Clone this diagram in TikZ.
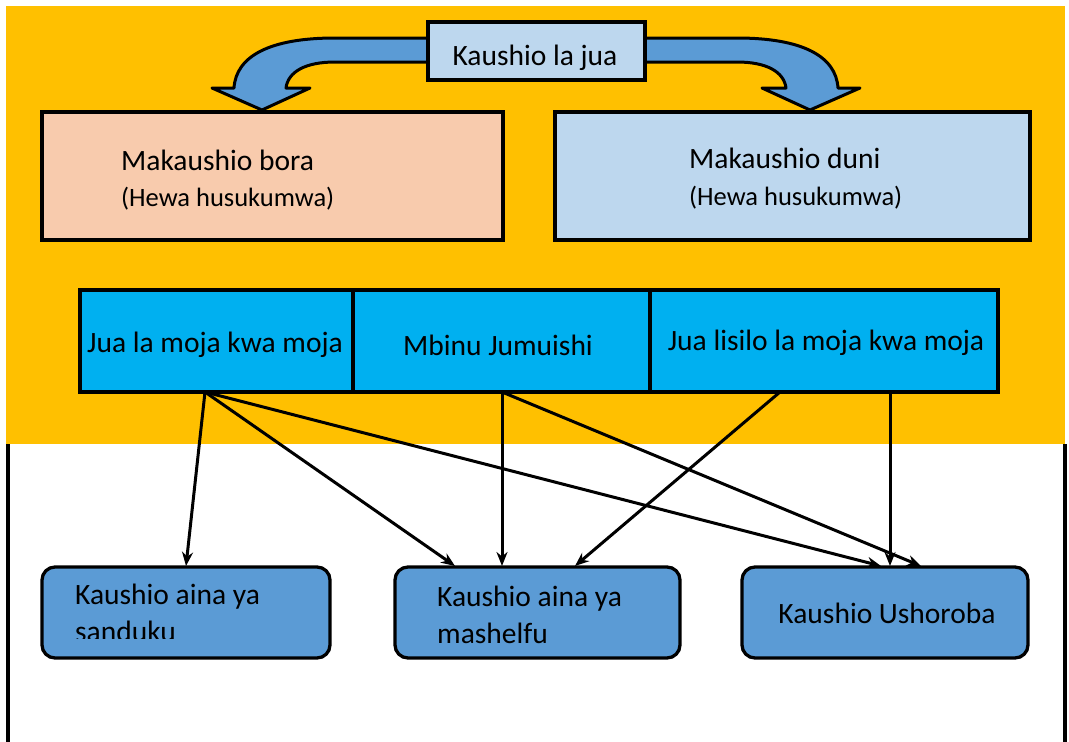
\documentclass[tikz,border=0pt]{standalone}
\usepackage{fontspec}
\setmainfont{Carlito}
\usetikzlibrary{arrows.meta}
\definecolor{orangebg}{HTML}{FFC000}
\definecolor{lightblue}{HTML}{BDD7EE}
\definecolor{peach}{HTML}{F8CBAD}
\definecolor{cyanband}{HTML}{00B0F0}
\definecolor{midblue}{HTML}{5B9BD5}
\begin{document}
\begin{tikzpicture}[x=1pt,y=-1pt,
  box/.style={draw=black,line width=3.3pt,inner sep=0pt},
  txt/.style={font=\fontsize{29.5}{35}\selectfont,inner sep=0pt},
  smalltxt/.style={font=\fontsize{26.5}{31}\selectfont,inner sep=0pt},
  conn/.style={line width=3pt,-{Stealth[length=14pt,width=11pt]}},
  bigarrow/.style={draw=black,line width=3pt,fill=midblue,line join=round},
  bottombox/.style={box,fill=midblue,rounded corners=13pt,minimum height=91pt}]
\useasboundingbox (0,0) rectangle (1069,742);
\fill[white] (0,0) rectangle (1069,742);
\fill[orangebg] (6,6) rectangle (1065,444);
\draw[line width=4pt] (8,444) -- (8,742);
\draw[line width=4pt] (1065,444) -- (1065,742);
% curved arrows
\draw[bigarrow] (440,38) -- (335,38) .. controls (270,38) and (236,56) .. (234,88) -- (212,88) -- (262,110) -- (310,88) -- (286,88) .. controls (288,72) and (305,62) .. (335,62) -- (440,62) -- cycle;
\draw[bigarrow] (632,38) -- (737,38) .. controls (802,38) and (836,56) .. (838,88) -- (860,88) -- (810,110) -- (762,88) -- (786,88) .. controls (784,72) and (767,62) .. (737,62) -- (632,62) -- cycle;
% top box
\node[box,fill=lightblue,minimum width=217pt,minimum height=58pt] (top) at (536.5,51) {};
\node[txt,anchor=base] (toptxt) at (535,65) {Kaushio la jua};
% second row
\node[box,fill=peach,minimum width=461pt,minimum height=128pt] (bora) at (272.5,176) {};
\node[txt,anchor=base west] (boratxt) at (121,170) {Makaushio bora};
\node[smalltxt,anchor=base west] (boraair) at (121,206) {(Hewa husukumwa)};
\node[box,fill=lightblue,minimum width=475pt,minimum height=128pt] (duni) at (792.5,176) {};
\node[txt,anchor=base west] (dunitxt) at (689,168) {Makaushio duni};
\node[smalltxt,anchor=base west] (duniair) at (689,205) {(Hewa husukumwa)};
% band
\node[box,fill=cyanband,minimum width=273pt,minimum height=102pt] (c1) at (216.5,341) {};
\node[box,fill=cyanband,minimum width=297pt,minimum height=102pt] (c2) at (501.5,341) {};
\node[box,fill=cyanband,minimum width=348pt,minimum height=102pt] (c3) at (824,341) {};
\node[txt,anchor=base] (c1txt) at (215,352) {Jua la moja kwa moja};
\node[txt,anchor=base] (c2txt) at (498,355) {Mbinu Jumuishi};
\node[txt,anchor=base] (c3txt) at (826,350) {Jua lisilo la moja kwa moja};
% bottom boxes
\node[bottombox,minimum width=288pt] (b1) at (186,612.5) {};
\node[bottombox,minimum width=285pt] (b2) at (537.5,612.5) {};
\node[bottombox,minimum width=286pt] (b3) at (885,612.5) {};
\begin{scope}
\clip (42,567) rectangle (330,638);
\node[txt,anchor=base west] (b1txt) at (75,604) {Kaushio aina ya};
\node[txt,anchor=base west] (b1txtb) at (75,641) {sanduku};
\end{scope}
\node[txt,anchor=base west] (b2txt) at (437,606) {Kaushio aina ya};
\node[txt,anchor=base west] (b2txtb) at (437,643) {mashelfu};
\node[txt,anchor=base] (b3txt) at (887,623) {Kaushio Ushoroba};
% connector endpoints
\coordinate (s1) at (205,392);
\coordinate (s2) at (502,392);
\coordinate (s3) at (780,392);
\coordinate (s4) at (890,392);
\coordinate (t1) at (186,566);
\coordinate (t2a) at (455,566);
\coordinate (t2b) at (502,566);
\coordinate (t2c) at (575,566);
\coordinate (t3a) at (881,566);
\coordinate (t3b) at (890,566);
\coordinate (t3c) at (921,566);
\draw[conn] (s1) -- (t1);
\draw[conn] (s1) -- (t2a);
\draw[conn] (s1) -- (t3a);
\draw[conn] (s2) -- (t2b);
\draw[conn] (s2) -- (t3c);
\draw[conn] (s3) -- (t2c);
\draw[conn] (s4) -- (t3b);
\end{tikzpicture}
\end{document}
